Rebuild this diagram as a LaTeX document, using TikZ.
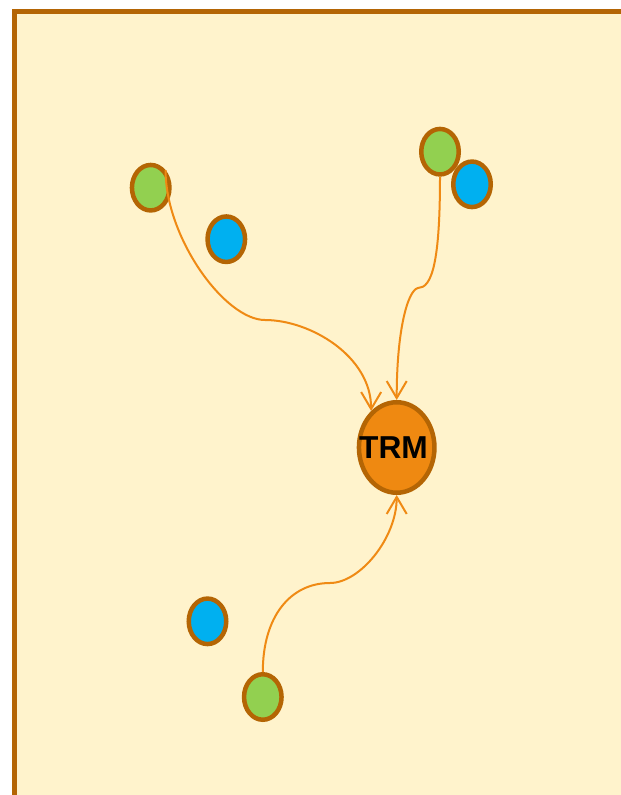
\documentclass[tikz,border=0pt]{standalone}
\usepackage{fontspec}
\setmainfont{Liberation Sans}
\usetikzlibrary{arrows.meta}
\usetikzlibrary{shapes}

\definecolor{paper}{HTML}{FFF3CC}
\definecolor{rim}{HTML}{B46504}
\definecolor{trmfill}{HTML}{EF8911}
\definecolor{leaf}{HTML}{92D050}
\definecolor{sky}{HTML}{00B0F0}
\definecolor{wire}{HTML}{EF8A14}

\begin{document}
\begin{tikzpicture}[x=1pt, y=-1pt,
    ball/.style={draw=rim, line width=4.5pt, ellipse, inner sep=0pt,
        minimum width=37.5pt, minimum height=45.5pt},
    greenball/.style={ball, fill=leaf},
    blueball/.style={ball, fill=sky},
    link/.style={draw=wire, line width=2pt, -{Straight Barb[length=17pt,width=20pt]}}]
    \useasboundingbox (0,0) rectangle (621,795);
    \clip (0,0) rectangle (621,795);
    \draw[rim, fill=paper, line width=4.5pt] (14.5,11.5) rectangle (700,900);

    \node[greenball] (G1) at (150.7,187.7) {};
    \node[blueball] (B1) at (226.3,239.2) {};
    \node[greenball] (G2) at (440,151.7) {};
    \node[blueball] (B2) at (472,184.3) {};
    \node[blueball] (B3) at (207.5,621.3) {};
    \node[greenball] (G3) at (262.8,697) {};
    \node[draw=rim, fill=trmfill, line width=4.5pt, ellipse, inner sep=0pt,
        minimum width=75.5pt, minimum height=90.5pt] (TRM) at (396.7,447.5) {};
    \node[font=\bfseries\fontsize{31.7}{32}\selectfont] (TRMtext) at (393.5,448) {TRM};

    \coordinate (M1) at (265,320);
    \coordinate (M2) at (418,288);
    \coordinate (M3) at (330,583);

    \draw[link] (G1.north east) .. controls +(0,68) and +(-40,0) .. (M1)
        .. controls +(45,0) and +(0,-55) .. (TRM.125);
    \draw[link] (G2.south) .. controls +(0,85) and +(14,0) .. (M2)
        .. controls +(-10,2) and +(0,-71) .. (TRM.north);
    \draw[link] (G3.north) .. controls +(0,-55) and +(-40,0) .. (M3)
        .. controls +(30,0) and +(0,43) .. (TRM.south);
\end{tikzpicture}
\end{document}
